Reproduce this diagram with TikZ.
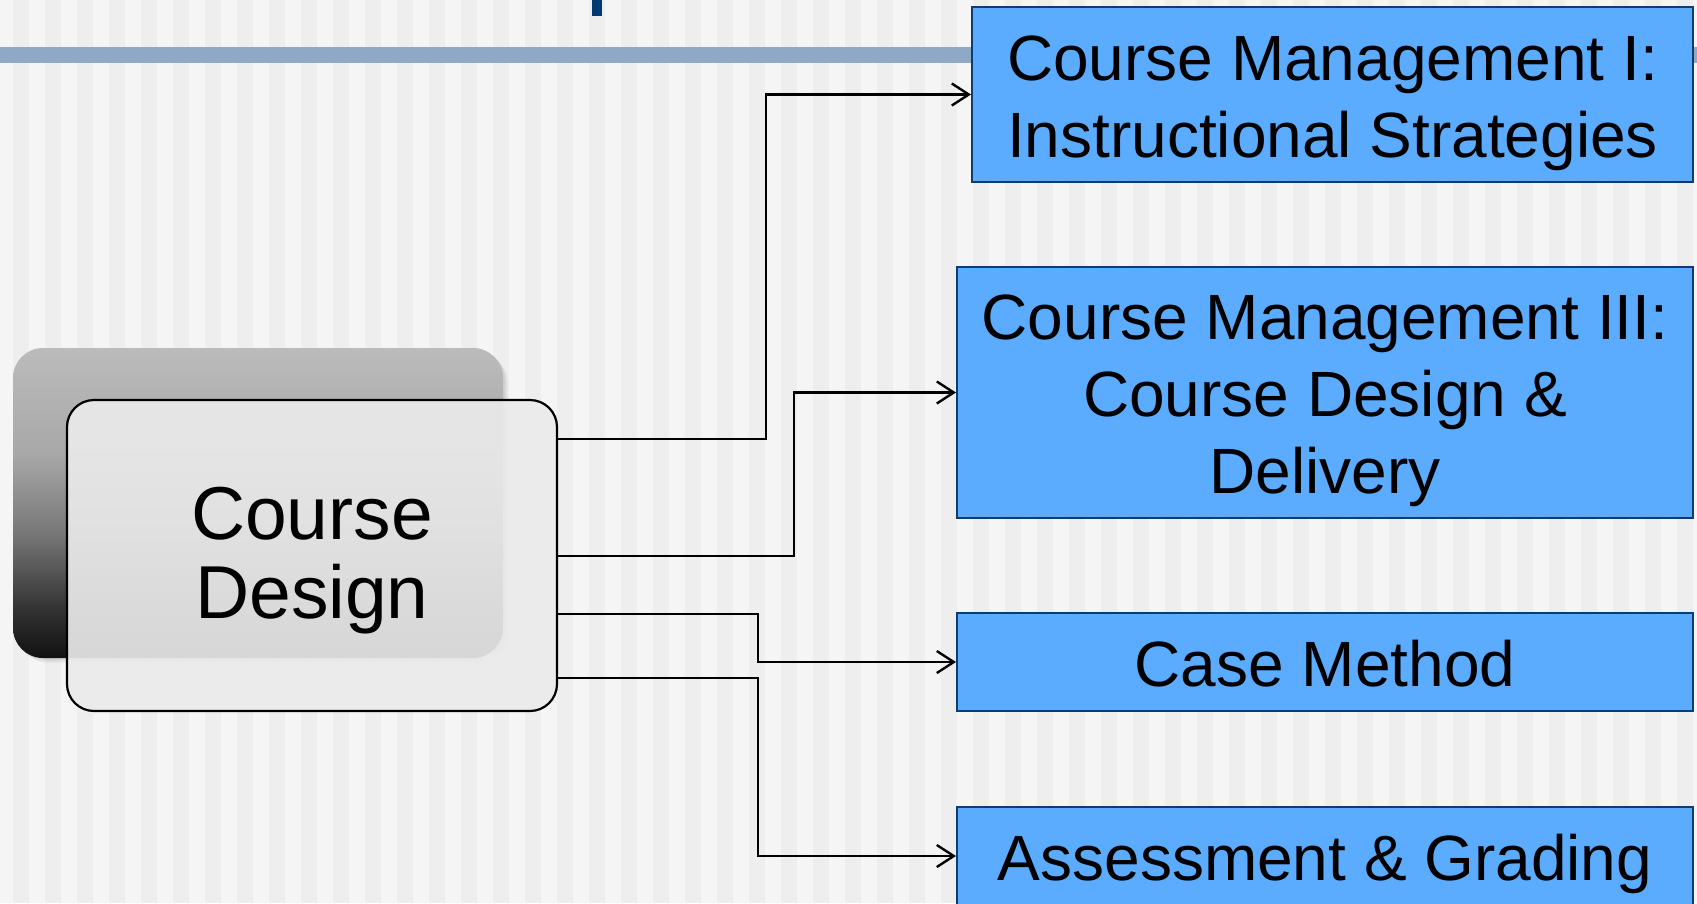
\documentclass[tikz,border=0pt]{standalone}
\usepackage{fontspec}
\setmainfont{Liberation Sans}
\usetikzlibrary{arrows.meta}
\definecolor{bglight}{HTML}{F5F5F5}
\definecolor{bgdark}{HTML}{EEEEEE}
\definecolor{bandcol}{HTML}{8FA8C3}
\definecolor{titleblue}{HTML}{003A70}
\definecolor{boxblue}{HTML}{5BABFE}
\definecolor{boxedge}{HTML}{0E3C6E}
\definecolor{cardgray}{HTML}{EBEBEB}
\definecolor{sh0}{HTML}{111111}
\definecolor{sh1}{HTML}{333333}
\definecolor{sh2}{HTML}{777777}
\definecolor{sh3}{HTML}{A8A8A8}
\definecolor{sh4}{HTML}{BBBBBB}
\pgfdeclareverticalshading{cdshade}{100bp}{color(0bp)=(sh0); color(25bp)=(sh0); color(33bp)=(sh1); color(45bp)=(sh2); color(58bp)=(sh3); color(75bp)=(sh4); color(100bp)=(sh4)}
\newcommand\bxtop{\rule{0pt}{62pt}}
\newcommand\bxbot{\rule[-14pt]{0pt}{14pt}}
\begin{document}
\begin{tikzpicture}[x=1pt,y=-1pt,
  mainbox/.style={draw=black, line width=2.2pt, rounded corners=27pt,
    fill=cardgray, fill opacity=0.91, text opacity=1, inner sep=0pt,
    minimum width=490pt, minimum height=311pt, align=center,
    font=\fontsize{75}{79}\selectfont},
  bluebox/.style={draw=boxedge, line width=2pt, fill=boxblue, inner sep=0pt,
    align=center, font=\fontsize{64}{77}\selectfont},
  conn/.style={draw=black, line width=2.4pt, -{Straight Barb[length=17pt,width=22pt]}}
]
\useasboundingbox (0,0) rectangle (1697,903);
\clip (0,0) rectangle (1697,903);
% background stripes
\fill[bglight] (0,0) rectangle (1697,903);
\foreach \k in {0,...,52} \fill[bgdark] ({13+32*\k},0) rectangle ({29+32*\k},903);
% title band
\fill[bandcol] (0,47) rectangle (1697,63);
\fill[titleblue] (592,0) rectangle (602,16);
% back card with soft shadow
\foreach \o/\a in {5/0.03,3.5/0.04,2/0.05} \fill[black, opacity=\a, rounded corners=30pt] ({13+\o},{348+\o}) rectangle ({503+\o},{658+\o});
\shade[shading=cdshade, rounded corners=30pt] (13,348) rectangle (503,658);
% main card
\node[mainbox] (cd) at (312,555.5) {\rule{0pt}{70pt}Course\\Design\rule[-24pt]{0pt}{24pt}};
% target boxes
\node[bluebox, minimum width=721pt, minimum height=175pt] (b1) at (1332.5,94.5) {\bxtop Course Management I:\\Instructional Strategies\bxbot};
\node[bluebox, minimum width=736pt, minimum height=251pt] (b2) at (1325,392.5) {\bxtop Course Management III:\\Course Design \&\\Delivery\bxbot};
\node[bluebox, minimum width=736pt, minimum height=98pt] (b3) at (1325,662) {\bxtop Case Method\bxbot};
\node[bluebox, minimum width=736pt, minimum height=98pt] (b4) at (1325,856) {\bxtop Assessment \& Grading\bxbot};
% connectors
\draw[conn] ([yshift=116.5pt]cd.east) -- ++(208,0) |- (b1.west);
\draw[conn] ([yshift=-0.5pt]cd.east) -- ++(236,0) |- (b2.west);
\draw[conn] ([yshift=-58.5pt]cd.east) -- ++(200,0) |- (b3.west);
\draw[conn] ([yshift=-122.5pt]cd.east) -- ++(200,0) |- (b4.west);
\end{tikzpicture}
\end{document}
